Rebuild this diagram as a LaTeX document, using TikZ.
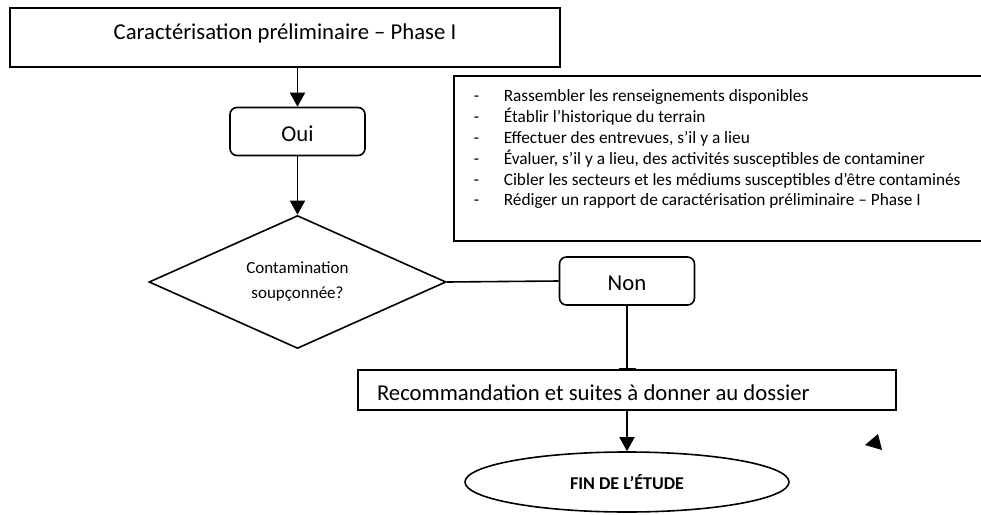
\documentclass[tikz,border=0pt]{standalone}
\usepackage{fontspec}
\setmainfont{Carlito}
\usetikzlibrary{shapes.geometric,arrows.meta}

\begin{document}
\begin{tikzpicture}[
    x=1pt, y=-1pt,
    line width=1.6pt,
    >={Triangle[width=15pt,length=14pt]},
    box/.style={draw=black, rectangle, inner sep=0pt},
    rbox/.style={draw=black, rectangle, rounded corners=7pt, minimum width=135pt, minimum height=48pt, text height=19pt, text depth=0pt, font=\fontsize{22.7}{27}\selectfont}]
    \useasboundingbox (0,0) rectangle (981,514);
    % NODES
    % phase I
    \node[box, minimum width=550pt, minimum height=59pt, text height=15pt, text depth=12pt, font=\fontsize{22.7}{27}\selectfont] (phase) at (285,37.5) {Caractérisation préliminaire – Phase I};
    % oui
    \node[rbox] (oui) at (297.5,131.5) {Oui};
    % list of tasks
    \node[box, anchor=north west, minimum width=540pt, minimum height=165pt] (stepsbox) at (453,75) {};
    \node[anchor=north west, inner sep=0pt, align=left, font=\fontsize{17.3}{20.8}\selectfont] (steps) at (473,89) {%
      \makebox[30pt][l]{-}Rassembler les renseignements disponibles\\
      \makebox[30pt][l]{-}Établir l’historique du terrain\\
      \makebox[30pt][l]{-}Effectuer des entrevues, s’il y a lieu\\
      \makebox[30pt][l]{-}Évaluer, s’il y a lieu, des activités susceptibles de contaminer\\
      \makebox[30pt][l]{-}Cibler les secteurs et les médiums susceptibles d’être contaminés\\
      \makebox[30pt][l]{-}Rédiger un rapport de caractérisation préliminaire – Phase I};
    % decision
    \node[draw=black, diamond, aspect=2.23, minimum width=297pt, minimum height=133pt, inner sep=0pt, align=center, font=\fontsize{17}{25}\selectfont] (suspect) at (297.5,282) {Contamination\\soupçonnée?};
    % non
    \node[rbox] (non) at (627,281) {Non};
    % recommandation
    \node[box, minimum width=538pt, minimum height=40pt, text width=500pt, inner xsep=19pt, text height=20pt, text depth=0pt, align=flush left, font=\fontsize{22.7}{27}\selectfont] (reco) at (627,390) {Recommandation et suites à donner au dossier};
    % end
    \node[draw=black, ellipse, minimum width=324pt, minimum height=60pt, inner sep=0pt, font=\bfseries\fontsize{18}{21}\selectfont] (fin) at (627,482) {FIN DE L’ÉTUDE};

    % ARROWS
    \draw[->] (phase.south -| oui.north) -- (oui.north);
    \draw[->] (oui.south) -- (suspect.north);
    \draw (suspect.east) -- (non.west);
    \draw[-{Bar[width=17pt]}] (non.south) -- (reco.north);
    \draw[->] (reco.south) -- (fin.north);
    % stray tip
    \fill (865,445) -- (878,434) -- (882,450) -- cycle;
  \end{tikzpicture}
\end{document}
